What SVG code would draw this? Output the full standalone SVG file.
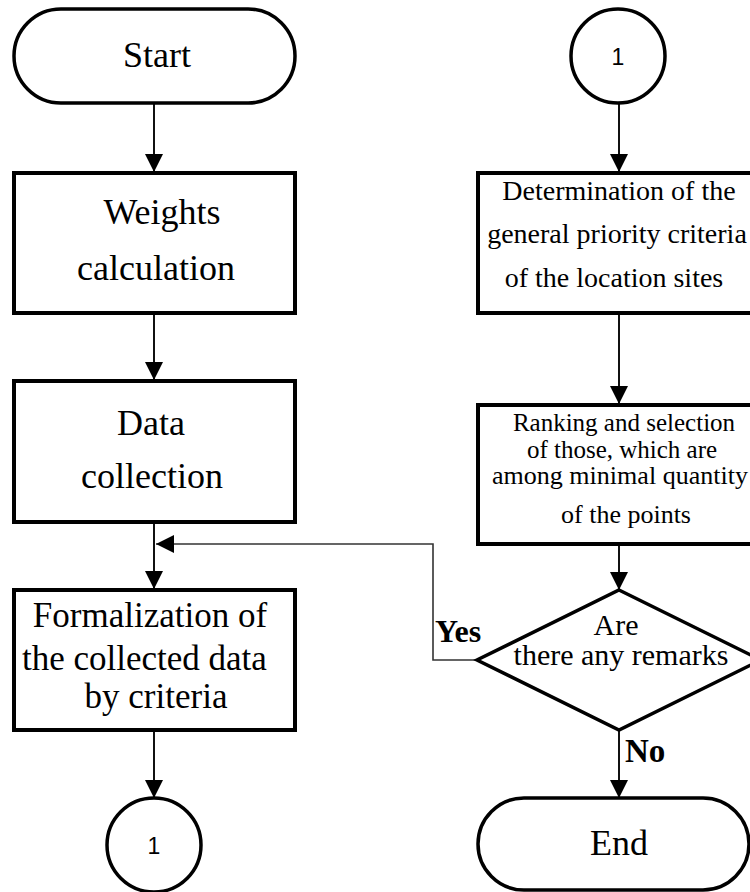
<svg xmlns="http://www.w3.org/2000/svg" width="750" height="892" viewBox="0 0 750 892">
<defs>
<style>
.node{fill:#fff;stroke:#000;stroke-width:4}
.term{fill:#fff;stroke:#000;stroke-width:3.5}
.conn{fill:none;stroke:#111;stroke-width:2}
.fb{fill:none;stroke:#333;stroke-width:1.6}
.t{font-family:"Liberation Serif","Times New Roman",serif;fill:#000;text-anchor:middle}
.s{font-family:"Liberation Sans",Arial,sans-serif;fill:#000;text-anchor:middle;font-size:23px}
.b{font-family:"Liberation Serif","Times New Roman",serif;fill:#000;font-weight:bold}
</style>
<marker id="arr" viewBox="0 0 18 18" refX="18" refY="9" markerWidth="18" markerHeight="18" markerUnits="userSpaceOnUse" orient="auto">
<path d="M0,0 L18,9 L0,18 z" fill="#000"/>
</marker>
</defs>
<rect width="750" height="892" fill="#fff"/>

<g id="connectors">
<line class="conn" x1="154" y1="103" x2="154" y2="172" marker-end="url(#arr)"/>
<line class="conn" x1="154" y1="313" x2="154" y2="380" marker-end="url(#arr)"/>
<line class="conn" x1="154" y1="522" x2="154" y2="589" marker-end="url(#arr)"/>
<line class="conn" x1="154" y1="730" x2="154" y2="798" marker-end="url(#arr)"/>
<line class="conn" x1="619" y1="104" x2="619" y2="172" marker-end="url(#arr)"/>
<line class="conn" x1="619" y1="313" x2="619" y2="404" marker-end="url(#arr)"/>
<line class="conn" x1="619" y1="544" x2="619" y2="590" marker-end="url(#arr)"/>
<line class="conn" x1="619" y1="730" x2="619" y2="798" marker-end="url(#arr)"/>
<polyline class="fb" points="477,660 433,660 433,544 156,544" marker-end="url(#arr)"/>
<text class="b" x="435" y="642" font-size="32">Yes</text>
<text class="b" x="625" y="762" font-size="33">No</text>
</g>

<g id="start">
<rect class="term" x="14" y="9" width="281" height="94" rx="47" ry="47"/>
<text class="t" x="157" y="67" font-size="36">Start</text>
</g>

<g id="weights">
<rect class="node" x="14" y="173" width="281" height="140"/>
<text class="t" x="162" y="224" font-size="36">Weights</text>
<text class="t" x="156" y="280" font-size="36">calculation</text>
</g>

<g id="data">
<rect class="node" x="14" y="381" width="281" height="141"/>
<text class="t" x="151" y="435" font-size="36">Data</text>
<text class="t" x="152" y="488" font-size="36">collection</text>
</g>

<g id="formalization">
<rect class="node" x="14" y="590" width="281" height="140"/>
<text class="t" x="150" y="627" font-size="35">Formalization of</text>
<text class="t" x="22" y="670" font-size="35" style="text-anchor:start">the collected data</text>
<text class="t" x="156" y="708" font-size="35">by criteria</text>
</g>

<g id="connector-left">
<circle cx="154" cy="845" r="47" fill="#fff" stroke="#000" stroke-width="3.5"/>
<text class="s" x="154" y="854">1</text>
</g>

<g id="connector-right">
<circle cx="618" cy="56" r="47" fill="#fff" stroke="#000" stroke-width="3.5"/>
<text class="s" x="618" y="65">1</text>
</g>

<g id="determination">
<rect class="node" x="478" y="173" width="290" height="140"/>
<text class="t" x="619" y="200" font-size="28">Determination of the</text>
<text class="t" x="617" y="243" font-size="28">general priority criteria</text>
<text class="t" x="614" y="287" font-size="28">of the location sites</text>
</g>

<g id="ranking">
<rect class="node" x="478" y="405" width="290" height="139"/>
<text class="t" x="624" y="431" font-size="25">Ranking and selection</text>
<text class="t" x="622" y="458" font-size="25">of those, which are</text>
<text class="t" x="620" y="484" font-size="25" textLength="256" lengthAdjust="spacingAndGlyphs">among minimal quantity</text>
<text class="t" x="626" y="523" font-size="26">of the points</text>
</g>

<g id="decision">
<polygon points="619,590 761,660 619,730 477,660" fill="#fff" stroke="#000" stroke-width="3.5"/>
<text class="t" x="616" y="635" font-size="30">Are</text>
<text class="t" x="621" y="665" font-size="30">there any remarks</text>
</g>

<g id="end">
<rect class="term" x="478" y="798" width="271" height="92" rx="46" ry="46"/>
<text class="t" x="619" y="855" font-size="36">End</text>
</g>
</svg>
